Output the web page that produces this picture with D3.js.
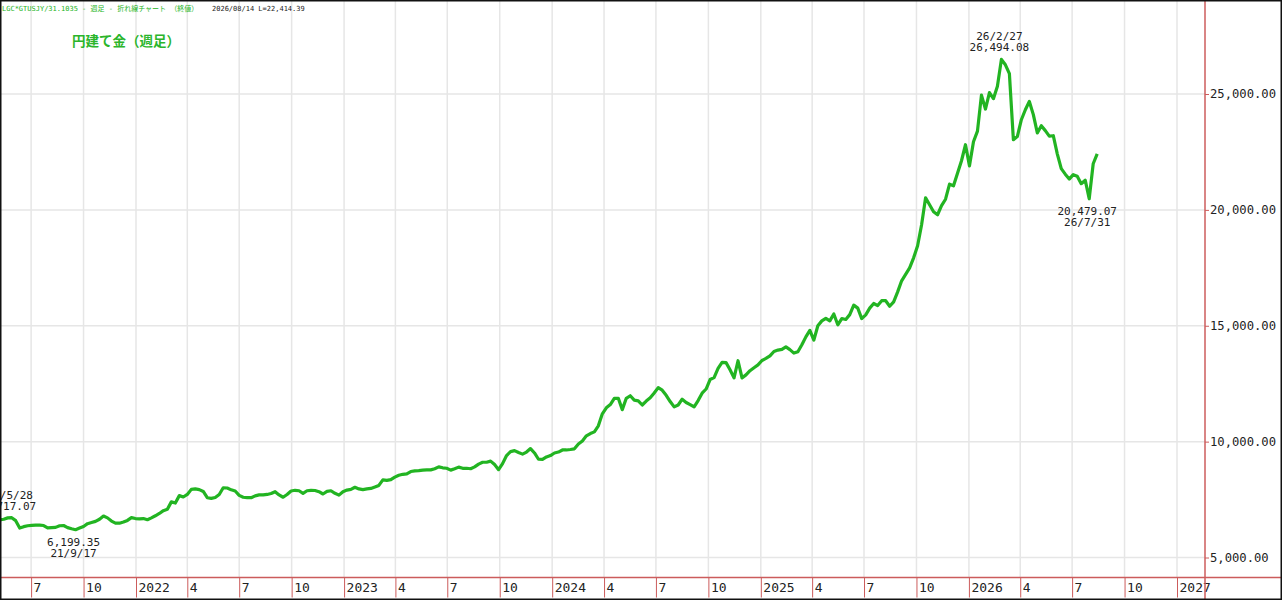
<!DOCTYPE html>
<html>
<head>
<meta charset="utf-8">
<script src="https://cdn.jsdelivr.net/npm/d3@7"></script>
<style>
  body { margin: 0; background: #fff; }
</style>
</head>
<body>
<svg id="chart" width="1282" height="601"></svg>
<script>
// weekly closes (yen per gram), first week ending 2021-05-07
var startDate = new Date(2021, 4, 7);
var closes = [
  6620, 6650, 6710, 6717.07, 6590, 6270, 6330, 6370, 6390, 6400,
  6400, 6380, 6280, 6290, 6300, 6370, 6380, 6290, 6240, 6199.35,
  6270, 6340, 6460, 6510, 6560, 6650, 6790, 6710, 6570, 6480,
  6480, 6530, 6600, 6720, 6680, 6670, 6680, 6630, 6710, 6800,
  6900, 7020, 7080, 7400, 7350, 7670, 7610, 7720, 7940, 7960,
  7930, 7850, 7580, 7550, 7590, 7720, 8010, 8000, 7920, 7870,
  7680, 7600, 7580, 7580, 7660, 7700, 7700, 7720, 7760, 7840,
  7700, 7600, 7720, 7870, 7900, 7880, 7770, 7880, 7900, 7890,
  7840, 7740, 7850, 7880, 7770, 7690, 7840, 7910, 7940, 8030,
  7960, 7930, 7960, 7980, 8040, 8110, 8350, 8330, 8360, 8470,
  8550, 8590, 8610, 8710, 8740, 8750, 8770, 8780, 8780, 8830,
  8910, 8870, 8850, 8770, 8830, 8900, 8850, 8850, 8830, 8910,
  9030, 9110, 9110, 9160, 9010, 8790, 9050, 9400, 9570, 9610,
  9530, 9460, 9550, 9700, 9510, 9240, 9230, 9340, 9400, 9510,
  9550, 9640, 9640, 9660, 9690, 9900, 10030, 10250, 10350, 10420,
  10680, 11200, 11460, 11600, 11870, 11870, 11380, 11870, 11980, 11790,
  11760, 11580, 11750, 11890, 12100, 12330, 12220, 12000, 11730, 11500,
  11580, 11830, 11690, 11600, 11500, 11770, 12090, 12270, 12680, 12760,
  13160, 13420, 13410, 13100, 12750, 13490, 12750, 12880, 13060, 13190,
  13310, 13500, 13590, 13700, 13890, 13950, 13980, 14090, 13970, 13820,
  13880, 14180, 14520, 14800, 14380, 15000, 15210, 15320, 15210, 15510,
  15040, 15310, 15270, 15480, 15890, 15760, 15310, 15470, 15760, 15960,
  15870, 16080, 16080, 15840, 16030, 16460, 16940, 17220, 17500, 17930,
  18450, 19360, 20520, 20220, 19920, 19790, 20180, 20460, 21110, 21040,
  21580, 22120, 22810, 21900, 22940, 23400, 24950, 24350, 25060, 24800,
  25330, 26494.08, 26260, 25880, 23030, 23170, 23890, 24320, 24680, 24110,
  23320, 23630, 23420, 23180, 23200, 22420, 21780, 21540, 21330, 21520,
  21450, 21130, 21280, 20479.07, 21990, 22414.39
];
var yTicks = [5000, 10000, 15000, 20000, 25000];
var highMarks = [3, 251];   // annotated highs (label above)
var lowMarks = [19, 273];   // annotated lows (label below)
var titleText = "円建て金（週足）";
var headerText = "LGC*GTUSJY/31.1035 - 週足 - 折れ線チャート （終値）";
var headerInfo = "2026/08/14 L=22,414.39";

var width = 1282, height = 601;
var plotW = 1205, axisY = 577.5;
var red = "#cc5c5c", green = "#22b422", grid = "#e6e6e6";
var mono = "'DejaVu Sans Mono', 'Noto Sans CJK JP', monospace";

var dates = closes.map(function(d, i) { return d3.timeWeek.offset(startDate, i); });

var svg = d3.select("#chart");

// scales - calibrated so 2022/1 and 2027/1 land on their ticks
var base = d3.scaleTime()
  .domain([new Date(2022, 0, 1), new Date(2027, 0, 1)])
  .range([136, 1177]);
var x = d3.scaleTime()
  .domain([base.invert(0), base.invert(plotW)])
  .range([0, plotW]);
var y = d3.scaleLinear()
  .domain([5000, 25000])
  .range([557.5, 94]);

var quarterTicks = x.ticks(d3.timeMonth.every(3));

// grid
svg.append("g").selectAll("line")
  .data(quarterTicks)
  .enter()
  .append("line")
  .attr("x1", d => x(d)).attr("x2", d => x(d))
  .attr("y1", 0).attr("y2", axisY)
  .attr("stroke", grid).attr("stroke-width", 1.5);

svg.append("g").selectAll("line")
  .data(yTicks)
  .enter()
  .append("line")
  .attr("x1", 0).attr("x2", plotW)
  .attr("y1", d => y(d)).attr("y2", d => y(d))
  .attr("stroke", grid).attr("stroke-width", 1.5);

// clip for the price line
svg.append("clipPath").attr("id", "plotClip")
  .append("rect").attr("x", 1).attr("y", 0).attr("width", plotW - 1).attr("height", axisY);

var line = d3.line()
  .x((d, i) => x(dates[i]))
  .y(d => y(d));

svg.append("path")
  .datum(closes)
  .attr("clip-path", "url(#plotClip)")
  .attr("d", line)
  .attr("fill", "none")
  .attr("stroke", green)
  .attr("stroke-width", 3.2)
  .attr("stroke-linejoin", "round");

// right axis
var rightAxis = d3.axisRight(y)
  .tickValues(yTicks)
  .tickSize(4)
  .tickPadding(1)
  .tickFormat(d3.format(",.2f"));

var yAxis = svg.append("g")
  .attr("transform", `translate(${plotW}, 0)`)
  .call(rightAxis);
yAxis.select(".domain").remove();
yAxis.selectAll("line").attr("stroke", red);
yAxis.selectAll("text")
  .style("font-family", mono)
  .style("font-size", "12.2px")
  .attr("fill", "#222");

// bottom axis
var bottomAxis = d3.axisBottom(x)
  .tickValues(quarterTicks)
  .tickSize(20)
  .tickFormat(d => d.getMonth() === 0 ? d3.timeFormat("%Y")(d) : String(d.getMonth() + 1));

var xAxis = svg.append("g")
  .attr("transform", `translate(0, ${axisY})`)
  .call(bottomAxis);
xAxis.select(".domain").remove();
xAxis.selectAll("line").attr("stroke", red);
xAxis.selectAll("text")
  .attr("x", 2)
  .attr("y", 5)
  .attr("dy", "0.71em")
  .attr("text-anchor", "start")
  .style("font-family", mono)
  .style("font-size", "13px")
  .attr("fill", "#222");

// axis frame lines
svg.append("line")
  .attr("x1", 0).attr("x2", width)
  .attr("y1", axisY).attr("y2", axisY)
  .attr("stroke", red).attr("stroke-width", 1.5);
svg.append("line")
  .attr("x1", plotW).attr("x2", plotW)
  .attr("y1", 0).attr("y2", 599)
  .attr("stroke", red).attr("stroke-width", 1.5);

// high / low annotations
var fmtVal = d3.format(",.2f");
var fmtDate = d3.timeFormat("%y/%-m/%-d");
var labels = svg.append("g")
  .attr("clip-path", "url(#plotClip)")
  .style("font-family", mono)
  .style("font-size", "11px")
  .attr("fill", "#222")
  .attr("text-anchor", "middle");

highMarks.forEach(function(i) {
  var px = x(dates[i]) - 2, py = y(closes[i]);
  labels.append("text").attr("x", px).attr("y", py - 19).text(fmtDate(dates[i]));
  labels.append("text").attr("x", px).attr("y", py - 8).text(fmtVal(closes[i]));
});
lowMarks.forEach(function(i) {
  var px = x(dates[i]) - 2, py = y(closes[i]);
  labels.append("text").attr("x", px).attr("y", py + 16).text(fmtVal(closes[i]));
  labels.append("text").attr("x", px).attr("y", py + 27).text(fmtDate(dates[i]));
});

// header + title
svg.append("text")
  .attr("x", 2).attr("y", 10.5)
  .style("font-family", mono).style("font-size", "7px")
  .attr("fill", green)
  .text(headerText);
svg.append("text")
  .attr("x", 212).attr("y", 10.5)
  .style("font-family", mono).style("font-size", "7px")
  .attr("fill", "#222")
  .text(headerInfo);

svg.append("text")
  .attr("x", 72).attr("y", 46)
  .style("font-family", "'Noto Sans CJK JP', sans-serif")
  .style("font-size", "13.5px")
  .style("font-weight", "bold")
  .attr("fill", "#2bb52b")
  .text(titleText);

// outer frame
svg.append("rect")
  .attr("x", 0.75).attr("y", 0.75)
  .attr("width", width - 1.5).attr("height", 598.5)
  .attr("fill", "none")
  .attr("stroke", "#111")
  .attr("stroke-width", 1.5);
</script>
</body>
</html>
